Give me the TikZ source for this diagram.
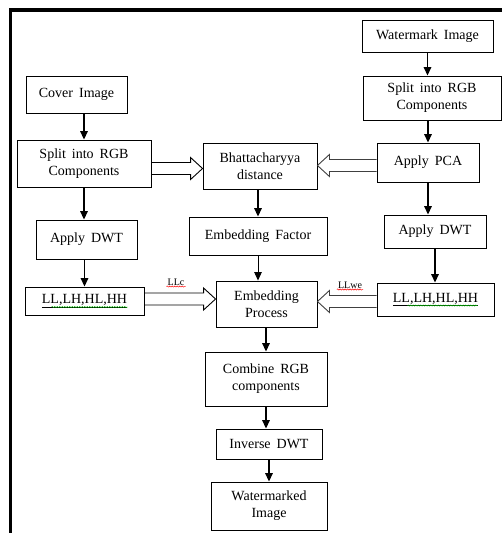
\documentclass[tikz,border=0pt]{standalone}
\usepackage{fontspec}
\setmainfont{Liberation Serif}
\usetikzlibrary{arrows.meta, calc, decorations.pathmorphing}
\newcommand{\boxfont}{\fontsize{14}{17}\selectfont\spaceskip=6pt plus 1pt\relax}
\tikzstyle{block} = [rectangle, line width=0.9pt, text centered, align=center, draw=black, inner sep=2pt, font=\boxfont]
\tikzstyle{arrow} = [line width=1.6pt, -{Triangle[width=7.5pt,length=8.5pt]}]
\tikzstyle{tag} = [inner sep=1pt, font=\fontsize{10}{12}\selectfont]
\tikzstyle{spell} = [decorate, decoration={snake, amplitude=0.6pt, segment length=2.5pt}, line width=0.5pt]
\tikzset{sz/.style 2 args={minimum width=#1pt, minimum height=#2pt}}
% outlined block arrow from #2 to #3
\newcommand{\blockarrow}[3][black]{%
  \path ($(#3)!12pt!(#2)$) coordinate (hbase);
  \draw[line width=0.9pt, draw=#1, line join=miter]
    ($(#2)!6pt!90:(#3)$) -- ($(hbase)!6pt!90:(#3)$) -- ($(hbase)!11pt!90:(#3)$) -- (#3)
    -- ($(hbase)!11pt!-90:(#3)$) -- ($(hbase)!6pt!-90:(#3)$) -- ($(#2)!6pt!-90:(#3)$);
}

\begin{document}
\begin{tikzpicture}[x=1pt, y=-1pt]
		\useasboundingbox (0,0) rectangle (502,533);
		\draw[line width=3.3pt, line join=miter] (10.3,533) -- (10.3,10) -- (502,10);

		% left column
		\node (cover) [block, sz={101}{37}] at (76.5,94.5) {Cover Image};
		\node (csplit) [block, sz={134}{47}] at (84,163.5) {Split into RGB\\Components};
		\node (cdwt) [block, sz={101}{39}] at (86.5,239.5) {Apply DWT};
		\node (llc) [block, sz={119}{28}] at (84.5,301) {\underline{LL,LH,HL,HH}};

		% right column
		\node (wm) [block, sz={131}{32}] at (427.5,36) {Watermark Image};
		\node (wsplit) [block, sz={138}{44}] at (432,98) {Split into RGB\\Components};
		\node (pca) [block, sz={102}{39}] at (428,162.5) {Apply PCA};
		\node (wdwt) [block, sz={102}{33}] at (435,231.5) {Apply DWT};
		\node (llw) [block, sz={117}{33}] at (435.5,299.5) {\underline{LL,LH,HL,HH}};

		% middle column
		\node (bhat) [block, sz={114}{46}] at (260,166) {Bhattacharyya\\distance};
		\node (efac) [block, sz={138}{38}] at (258,236) {Embedding Factor};
		\node (emb) [block, sz={101}{46}] at (266.5,304) {Embedding\\Process};
		\node (comb) [block, sz={122}{54}] at (266,379) {Combine RGB\\components};
		\node (inv) [block, sz={106}{30}] at (269,444) {Inverse DWT};
		\node (wmd) [block, sz={116}{48}] at (269,506) {Watermarked\\Image};

		\node (lblc) [tag] at (176,282) {LLc};
		\node (lblw) [tag] at (350,285) {LLwe};
		\draw[spell, red] (lblc.south west) -- (lblc.south east);
		\draw[spell, red] (lblw.south west) -- (lblw.south east);
		\draw[spell, green!70!black] ($(llc.base)+(-33pt,-3.5pt)$) -- ($(llc.base)+(43pt,-3.5pt)$);
		\draw[spell, green!70!black] ($(llw.base)+(-28pt,-3.5pt)$) -- ($(llw.base)+(42pt,-3.5pt)$);

		\draw [arrow] (cover.south -| csplit) -- (csplit.north);
		\draw [arrow] (csplit.south) -- (csplit.south |- cdwt.north);
		\draw [arrow] (cdwt.south -| llc) -- (llc.north);
		\draw [arrow] (wm.south) -- (wm.south |- wsplit.north);
		\draw [arrow] (wsplit.south -| pca) -- (pca.north);
		\draw [arrow] (pca.south) -- (pca.south |- wdwt.north);
		\draw [arrow] (wdwt.south) -- (wdwt.south |- llw.north);
		\draw [arrow] (bhat.south -| efac) -- (efac.north);
		\draw [arrow, line width=0.9pt] (efac.south) -- (efac.south |- emb.north);
		\draw [arrow] (emb.south -| comb) -- (comb.north);
		\draw [arrow] (comb.south) -- (comb.south |- inv.north);
		\draw [arrow] (inv.south) -- (inv.south |- wmd.north);

		\coordinate (ha) at ([yshift=-5pt]csplit.east);
		\coordinate (hb) at (ha -| bhat.west);
		\blockarrow{ha}{hb}
		\coordinate (hc) at ([yshift=-3pt]pca.west);
		\coordinate (hd) at (hc -| bhat.east);
		\blockarrow[black!75]{hc}{hd}
		\coordinate (he) at ([yshift=2pt]llc.east);
		\coordinate (hf) at (he -| emb.west);
		\blockarrow{he}{hf}
		\coordinate (hg) at ([yshift=-2pt]llw.west);
		\coordinate (hh) at (hg -| emb.east);
		\blockarrow[black!75]{hg}{hh}
\end{tikzpicture}
\end{document}
